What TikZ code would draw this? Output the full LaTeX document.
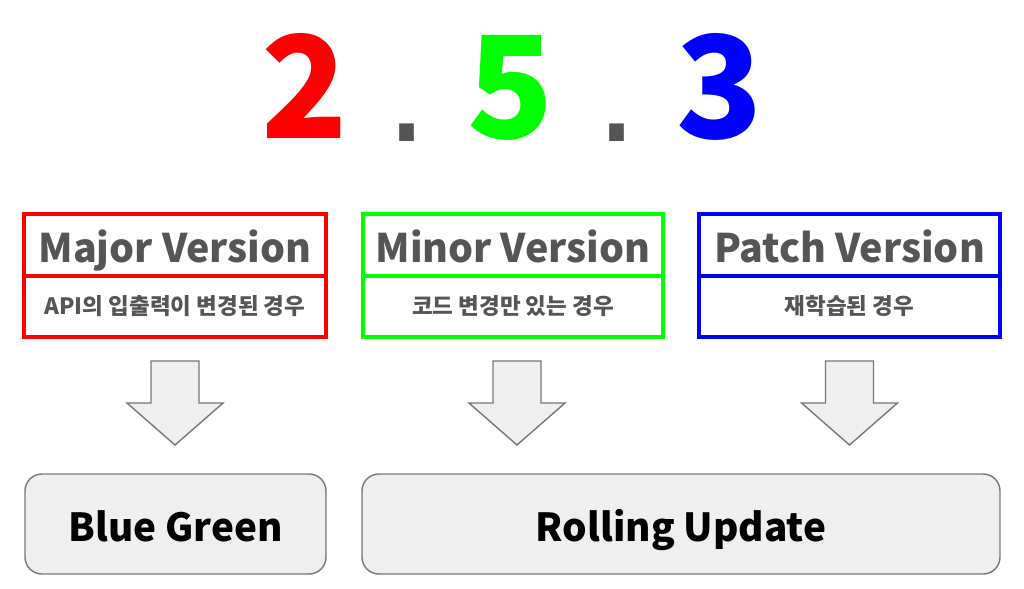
\documentclass[tikz,border=0pt]{standalone}
\usepackage{fontspec}
\setmainfont{Noto Sans CJK KR}
\newfontfamily\dotfont{DejaVu Sans}
\usetikzlibrary{calc}

\definecolor{textgray}{HTML}{555555}
\definecolor{boxfill}{HTML}{EFEFEF}
\definecolor{edgegray}{HTML}{777777}
\definecolor{vred}{HTML}{FF0000}
\definecolor{vgreen}{HTML}{00FF00}
\definecolor{vblue}{HTML}{0000FF}

\tikzset{
  digit/.style={font=\fontsize{101}{101}\selectfont\bfseries, inner sep=0pt, anchor=base},
  sepdot/.style={font=\fontsize{101}{101}\selectfont\dotfont, text=textgray, inner sep=0pt, anchor=base},
  vline/.style={line width=2.6pt},
  headtext/.style={font=\fontsize{28}{28}\selectfont\bfseries, text=textgray, inner sep=0pt, anchor=base},
  subtext/.style={font=\fontsize{16}{16}\selectfont\bfseries, text=textgray, inner sep=0pt},
  blockarrow/.style={draw=edgegray, fill=boxfill, line width=1pt, line join=miter},
  deploybox/.style={draw=edgegray, fill=boxfill, line width=1pt, rounded corners=12},
  deploytext/.style={font=\fontsize{27.5}{27.5}\selectfont\bfseries, inner sep=0pt, anchor=base},
}

\begin{document}
\begin{tikzpicture}[x=0.025cm, y=-0.025cm]
	\useasboundingbox (0,0) rectangle (1024,588);
	
	% Version number
	\node[digit, text=vred] (major) at (304.5,138) {2};
	\node[sepdot] (dota) at (407.5,141) {.};
	\node[digit, text=vgreen] (minor) at (510.5,138) {5};
	\node[sepdot] (dotb) at (617,141) {.};
	\node[digit, text=vblue] (patch) at (719.5,138) {3};
	
	% Version boxes
	\draw[vline, vred] (24,214) rectangle (326,337);
	\draw[vline, vred] (24,276) -- (326,276);
	\draw[vline, vgreen] (363,214) rectangle (663,337);
	\draw[vline, vgreen] (363,276) -- (663,276);
	\draw[vline, vblue] (699,214) rectangle (1000,337);
	\draw[vline, vblue] (699,276) -- (1000,276);
	
	\node[headtext] (majorhead) at (175,262) {Major Version};
	\node[headtext] (minorhead) at (513,262) {Minor Version};
	\node[headtext] (patchhead) at (849.5,262) {Patch Version};
	
	\node[subtext] (majorcase) at (175,306.5) {API의 입출력이 변경된 경우};
	\node[subtext] (minorcase) at (513,306.5) {코드 변경만 있는 경우};
	\node[subtext] (patchcase) at (849.5,306.5) {재학습된 경우};
	
	% Block arrows
	\foreach \cx in {175,517,849.5}
	\draw[blockarrow] (\cx-24,361) -- (\cx+24,361) -- (\cx+24,403) -- (\cx+48,403)
		-- (\cx,445) -- (\cx-48,403) -- (\cx-24,403) -- cycle;
	
	% Deployment boxes
	\draw[deploybox] (25,474) rectangle (326,574);
	\draw[deploybox] (362,474) rectangle (1000,574);
	\node[deploytext] (bluegreen) at (175.5,541) {Blue Green};
	\node[deploytext] (rolling) at (681,541) {Rolling Update};
\end{tikzpicture}
\end{document}
